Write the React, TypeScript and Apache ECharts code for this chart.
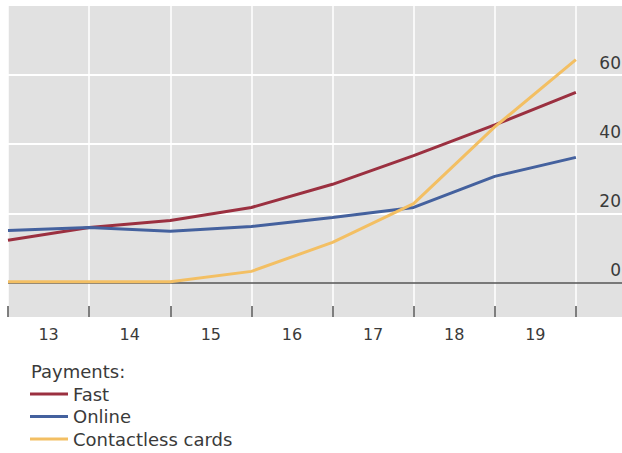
import React, { useEffect, useRef } from "react";
import * as echarts from "echarts";

// Year labels (category bands)
const yearLabels = ["13", "14", "15", "16", "17", "18", "19"];
// Observation points (year-end positions on the time axis: 13 = start of 2013)
const pointPositions = [13, 14, 15, 16, 17, 18, 19, 20];
// Series values (per cent)
const fastValues = [12.2, 15.9, 17.9, 21.7, 28.4, 36.7, 45.6, 55.0];
const onlineValues = [15.0, 15.9, 14.8, 16.2, 18.8, 21.7, 30.7, 36.2];
const contactlessValues = [0.2, 0.2, 0.2, 3.2, 11.6, 22.8, 45.0, 64.5];
// Horizontal gridline values and y tick labels
const gridValues = [20, 40, 60];
const yTickLabels = [0, 20, 40, 60];

const seriesNames = ["Fast", "Online", "Contactless cards"];
const seriesColors = ["#9b3040", "#44619e", "#f3bf63"];

export default function App() {
  const ref = useRef<HTMLDivElement>(null);

  useEffect(() => {
    if (!ref.current) return;
    const chart = echarts.init(ref.current, undefined, { renderer: "svg" });
    const font = "'DejaVu Sans', 'Noto Sans', sans-serif";
    const zip = (vals: number[]) => vals.map((v, i) => [pointPositions[i], v]);
    const allValues = [fastValues, onlineValues, contactlessValues];

    chart.setOption({
      animation: false,
      textStyle: { fontFamily: font },
      title: {
        text: "Payments:",
        left: 31,
        top: 362,
        padding: 0,
        textStyle: { fontSize: 18, fontWeight: "normal", color: "#3a3a3a", fontFamily: font },
      },
      legend: {
        orient: "vertical",
        left: 30,
        top: 385,
        height: 90,
        padding: 0,
        icon: "rect",
        itemWidth: 38,
        itemHeight: 3,
        itemGap: 4.5,
        data: seriesNames,
        textStyle: { fontSize: 18, color: "#3a3a3a", fontFamily: font },
      },
      grid: {
        left: 8,
        top: 6,
        width: 649,
        bottom: 136,
        show: true,
        backgroundColor: "#e1e1e1",
        borderWidth: 0,
        containLabel: false,
        outerBoundsMode: "none",
      },
      xAxis: [
        {
          type: "value",
          min: 13,
          max: 21,
          interval: 1,
          axisLine: { show: false },
          axisTick: { show: false },
          axisLabel: { show: false },
          splitLine: { show: true, lineStyle: { color: "#ffffff", width: 1.5 } },
        },
        {
          type: "category",
          position: "bottom",
          data: [...yearLabels, ""],
          boundaryGap: true,
          axisLine: { show: false, onZero: false },
          axisTick: { show: true, inside: true, length: 11, lineStyle: { color: "#555", width: 1.5 } },
          axisLabel: { fontSize: 16, color: "#3a3a3a", margin: 9, fontFamily: font },
          splitLine: { show: false },
        },
      ],
      yAxis: {
        type: "value",
        position: "right",
        min: -10,
        max: 80,
        interval: 10,
        axisLine: { show: false },
        axisTick: { show: false },
        splitLine: { show: false },
        axisLabel: {
          inside: true,
          margin: 36,
          fontSize: 17,
          color: "#3a3a3a",
          fontFamily: font,
          verticalAlign: "bottom",
          padding: [0, 0, 4, 0],
          formatter: (v: number) => (yTickLabels.includes(v) ? String(v) : ""),
        },
      },
      series: [
        {
          type: "line",
          data: [],
          z: 1,
          silent: true,
          markLine: {
            z: 1,
            silent: true,
            symbol: "none",
            label: { show: false },
            data: [
              ...gridValues.map((v) => ({ yAxis: v, lineStyle: { color: "#ffffff", width: 2, type: "solid" } })),
              { yAxis: 0, lineStyle: { color: "#555555", width: 1.5, type: "solid" } },
            ],
          },
        },
        ...seriesNames.map((name, i) => ({
          name,
          type: "line",
          xAxisIndex: 0,
          data: zip(allValues[i]),
          symbol: "none",
          z: 10,
          color: seriesColors[i],
          lineStyle: { color: seriesColors[i], width: 3 },
        })),
      ],
    });
    return () => chart.dispose();
  }, []);

  return (
    <div
      ref={ref}
      style={{ position: "fixed", left: 0, top: 0, width: 622, height: 453, background: "#fff" }}
    />
  );
}
